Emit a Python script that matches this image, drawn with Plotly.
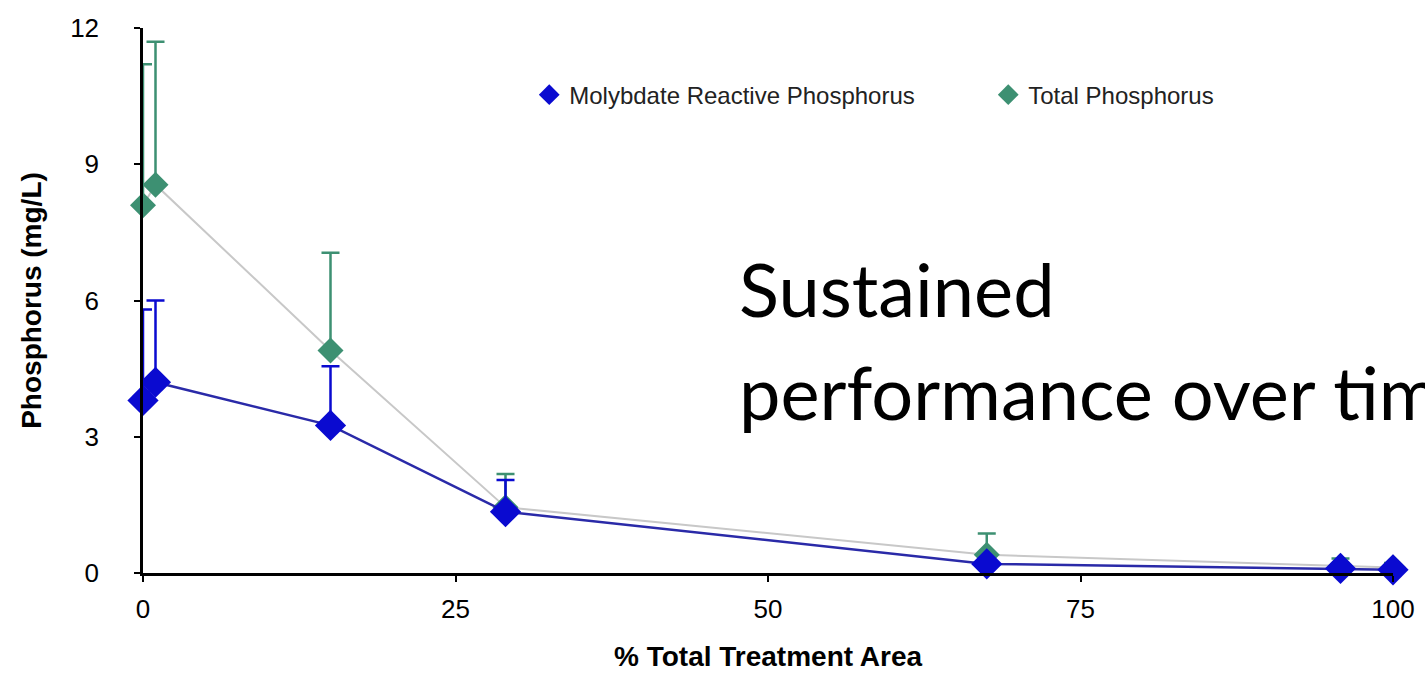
import plotly.graph_objects as go

# Data
x_vals = [0, 1, 15, 29, 67.5, 95.8, 100]
mrp = [3.8, 4.2, 3.25, 1.35, 0.2, 0.1, 0.07]
mrp_err = [2.0, 1.8, 1.3, 0.7, 0.1, 0.05, 0.03]
tp = [8.1, 8.55, 4.9, 1.45, 0.4, 0.15, 0.12]
tp_err = [3.1, 3.15, 2.15, 0.73, 0.47, 0.17, 0.1]
x_ticks = [0, 25, 50, 75, 100]
y_ticks = [0, 3, 6, 9, 12]

BLUE = "#0a0ad0"
GREEN = "#3d9072"

fig = go.Figure()

# Total phosphorus line (light gray)
fig.add_trace(go.Scatter(x=x_vals, y=tp, mode="lines",
                         line=dict(color="#c8c8c8", width=2),
                         showlegend=False, hoverinfo="skip", cliponaxis=False))
fig.add_trace(go.Scatter(x=x_vals, y=tp, mode="markers", name="Total Phosphorus",
                         marker=dict(symbol="diamond", size=20, color=GREEN),
                         cliponaxis=False,
                         error_y=dict(type="data", array=tp_err, arrayminus=[0]*len(tp_err),
                                      symmetric=False, color=GREEN, thickness=2.5, width=9)))
# MRP
fig.add_trace(go.Scatter(x=x_vals, y=mrp, mode="lines",
                         line=dict(color="#2a2aa8", width=2.5),
                         showlegend=False, hoverinfo="skip", cliponaxis=False))
fig.add_trace(go.Scatter(x=x_vals, y=mrp, mode="markers", name="Molybdate Reactive Phosphorus",
                         marker=dict(symbol="diamond", size=24, color=BLUE),
                         cliponaxis=False,
                         error_y=dict(type="data", array=mrp_err, arrayminus=[0]*len(mrp_err),
                                      symmetric=False, color=BLUE, thickness=2.5, width=9)))

fig.update_layout(
    width=1425, height=673,
    margin=dict(l=143, r=32, t=28, b=100, autoexpand=False),
    paper_bgcolor="white", plot_bgcolor="white",
    font=dict(family="Liberation Sans, Arial, sans-serif", color="black"),
    legend=dict(orientation="h", x=0.309, y=0.877, yanchor="middle", xanchor="left",
                font=dict(size=24, color="#222"), traceorder="reversed",
                itemwidth=30, entrywidth=414, bgcolor="rgba(0,0,0,0)"),
    xaxis=dict(range=[0, 100], tickvals=x_ticks, showgrid=False, zeroline=False,
               showline=True, linecolor="black", linewidth=2.5, ticks="outside",
               ticklen=6, tickwidth=2, tickcolor="black",
               tickfont=dict(size=26), ticklabelstandoff=5),
    yaxis=dict(range=[0, 12], tickvals=y_ticks, showgrid=False, zeroline=False,
               showline=True, linecolor="black", linewidth=2.5, ticks="outside",
               ticklen=6, tickwidth=2, tickcolor="black",
               tickfont=dict(size=26), ticklabelstandoff=30,
               title=dict(text="<b>Phosphorus (mg/L)</b>", font=dict(size=28), standoff=21)),
)

# x-axis title placed precisely
fig.add_annotation(text="<b>% Total Treatment Area</b>", xref="paper", yref="paper",
                   x=0.5, y=(573-656)/545, xanchor="center", yanchor="middle",
                   showarrow=False, font=dict(size=28, color="black"))

fig.add_annotation(text="Sustained", xref="paper", yref="paper", x=0.475, y=(573-288)/545,
                   xanchor="left", yanchor="middle", showarrow=False,
                   font=dict(family="Lato, sans-serif", size=74, color="black"))
fig.add_annotation(text="performance over time", xref="paper", yref="paper", x=0.475, y=(573-391)/545,
                   xanchor="left", yanchor="middle", showarrow=False,
                   font=dict(family="Lato, sans-serif", size=74, color="black"))

fig.write_html("out.html")
